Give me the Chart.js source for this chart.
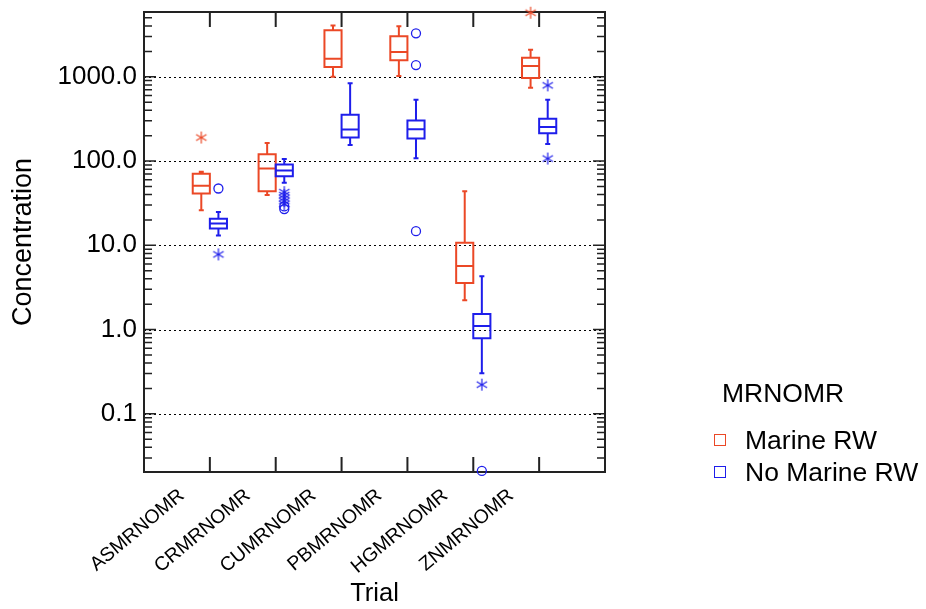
<!DOCTYPE html>
<html>
<head>
<meta charset="utf-8">
<script src="https://cdn.jsdelivr.net/npm/chart.js@4.4.1/dist/chart.umd.min.js"></script>
<style>
    body { margin: 0; background: #fff; font-family: 'Liberation Sans', Arial, sans-serif; }
    #wrap { position: relative; width: 926px; height: 609px; }
    .leg { position: absolute; font-size: 26.5px; color: #000; line-height: 30px; white-space: nowrap; }
    .sq { position: absolute; width: 10px; height: 10px; border: 1.5px solid; }
</style>
</head>
<body>
<div id="wrap">
    <canvas id="boxChart"></canvas>
    <div class="leg" style="left:722px; top:378px;">MRNOMR</div>
    <div class="sq" style="left:714px; top:434px; border-color:rgb(235,72,38);"></div>
    <div class="leg" style="left:745px; top:425px;">Marine RW</div>
    <div class="sq" style="left:714px; top:466px; border-color:rgb(30,30,235);"></div>
    <div class="leg" style="left:745px; top:457px;">No Marine RW</div>
</div>
<script>
// Categorias
const trials = ['ASMRNOMR', 'CRMRNOMR', 'CUMRNOMR', 'PBMRNOMR', 'HGMRNOMR', 'ZNMRNOMR'];

// Marine RW: whisker baixo, Q1, mediana, Q3, whisker alto
const marineLow  = [26.1, 39.4, 1000, 1020, 2.23, 740];
const marineQ1   = [41.2, 43.9, 1303, 1567, 3.57, 965];
const marineMed  = [50.8, 81.7, 1636, 1964, 5.69, 1340];
const marineQ3   = [70.5, 120, 3556, 3020, 10.7, 1682];
const marineHigh = [74.4, 164, 4065, 3970, 43.9, 2093];
const marineStars   = [[190], [], [], [], [], [5760]];
const marineCircles = [[], [], [], [], [], []];

// No Marine RW
const noMarineLow  = [13.1, 55.1, 155, 108, 0.303, 159];
const noMarineQ1   = [15.8, 66.2, 190, 185, 0.79, 213];
const noMarineMed  = [18.2, 77.3, 237, 239, 1.10, 253];
const noMarineQ3   = [20.6, 91.2, 354, 303, 1.53, 317];
const noMarineHigh = [24.9, 106, 835, 533, 4.29, 533];
const noMarineStars   = [[7.8], [42.7, 39.4, 36.2, 33.4, 30.8], [], [], [0.222], [791, 107]];
const noMarineCircles = [[47.2], [28.9, 26.9], [], [3275, 1377, 14.7], [0.021], []];

// Eixo Y
const yMin = 0.0204;
const yMax = 5870;
const yTicks = [0.1, 1, 10, 100, 1000];
const yTickLabels = ['0.1', '1.0', '10.0', '100.0', '1000.0'];

const RED = 'rgb(235,72,38)';
const BLUE = 'rgb(30,30,235)';
const OFF = 0.13;
const FONT = "'Liberation Sans', Arial, sans-serif";

Chart.defaults.font.family = FONT;
Chart.defaults.color = '#000';

function makeStar(color) {
    const c = document.createElement('canvas');
    c.width = 14; c.height = 14;
    const g = c.getContext('2d');
    g.strokeStyle = color;
    g.lineWidth = 1.2;
    for (let k = 0; k < 3; k++) {
        const a = Math.PI / 2 + k * Math.PI / 3;
        g.beginPath();
        g.moveTo(7 + 6 * Math.cos(a), 7 + 6 * Math.sin(a));
        g.lineTo(7 - 6 * Math.cos(a), 7 - 6 * Math.sin(a));
        g.stroke();
    }
    return c;
}

function toPoints(list, offset) {
    const pts = [];
    list.forEach((vals, i) => vals.forEach(v => pts.push({ x: i + 1 + offset, y: v })));
    return pts;
}

// Desenha caixas, grade e moldura usando as escalas do Chart.js
const boxPlugin = {
    id: 'boxes',
    beforeDatasetsDraw(chart) {
        const { ctx, chartArea: a, scales: { x, y } } = chart;
        ctx.save();

        // linhas pontilhadas nas décadas
        ctx.strokeStyle = '#000';
        ctx.lineWidth = 1.2;
        ctx.setLineDash([2, 3]);
        yTicks.forEach(v => {
            const py = Math.round(y.getPixelForValue(v)) + 0.5;
            ctx.beginPath(); ctx.moveTo(a.left, py); ctx.lineTo(a.right, py); ctx.stroke();
        });
        ctx.setLineDash([]);

        // ticks do eixo Y (dentro, dos dois lados)
        ctx.strokeStyle = '#222';
        ctx.lineWidth = 1.5;
        for (let e = -2; e <= 3; e++) {
            for (let m = 1; m <= 9; m++) {
                const v = m * Math.pow(10, e);
                if (v < yMin || v > yMax) continue;
                const py = y.getPixelForValue(v);
                const len = m === 1 ? 12 : 8;
                ctx.beginPath();
                ctx.moveTo(a.left, py); ctx.lineTo(a.left + len, py);
                ctx.moveTo(a.right, py); ctx.lineTo(a.right - len, py);
                ctx.stroke();
            }
        }

        // ticks do eixo X (dentro, em cima e embaixo)
        ctx.lineWidth = 2;
        trials.forEach((t, i) => {
            const px = x.getPixelForValue(i + 1);
            ctx.beginPath();
            ctx.moveTo(px, a.bottom); ctx.lineTo(px, a.bottom - 15);
            ctx.moveTo(px, a.top); ctx.lineTo(px, a.top + 15);
            ctx.stroke();
        });

        function drawGroup(low, q1, med, q3, high, offset, color) {
            ctx.strokeStyle = color;
            ctx.lineWidth = 2;
            trials.forEach((t, i) => {
                const xc = x.getPixelForValue(i + 1 + offset);
                const xl = x.getPixelForValue(i + 1 + offset - OFF);
                const xr = x.getPixelForValue(i + 1 + offset + OFF);
                const cap = 2.5;
                const yLo = y.getPixelForValue(low[i]);
                const yQ1 = y.getPixelForValue(q1[i]);
                const yMd = y.getPixelForValue(med[i]);
                const yQ3 = y.getPixelForValue(q3[i]);
                const yHi = y.getPixelForValue(high[i]);
                ctx.beginPath();
                ctx.rect(xl, yQ3, xr - xl, yQ1 - yQ3);
                ctx.moveTo(xl, yMd); ctx.lineTo(xr, yMd);
                ctx.moveTo(xc, yQ3); ctx.lineTo(xc, yHi);
                ctx.moveTo(xc - cap, yHi); ctx.lineTo(xc + cap, yHi);
                ctx.moveTo(xc, yQ1); ctx.lineTo(xc, yLo);
                ctx.moveTo(xc - cap, yLo); ctx.lineTo(xc + cap, yLo);
                ctx.stroke();
            });
        }
        drawGroup(marineLow, marineQ1, marineMed, marineQ3, marineHigh, -OFF, RED);
        drawGroup(noMarineLow, noMarineQ1, noMarineMed, noMarineQ3, noMarineHigh, OFF, BLUE);

        // moldura
        ctx.strokeStyle = '#222';
        ctx.lineWidth = 2;
        ctx.strokeRect(a.left, a.top, a.right - a.left, a.bottom - a.top);
        ctx.restore();
    }
};

const ctx = document.getElementById('boxChart').getContext('2d');
const boxChart = new Chart(ctx, {
    type: 'scatter',
    data: {
        datasets: [
            {
                label: 'Marine RW *',
                data: toPoints(marineStars, -OFF),
                pointStyle: makeStar(RED),
                clip: false
            },
            {
                label: 'Marine RW o',
                data: toPoints(marineCircles, -OFF),
                pointStyle: 'circle',
                pointRadius: 4.5,
                borderColor: RED,
                backgroundColor: 'rgba(0,0,0,0)',
                borderWidth: 1.3,
                clip: false
            },
            {
                label: 'No Marine RW *',
                data: toPoints(noMarineStars, OFF),
                pointStyle: makeStar(BLUE),
                clip: false
            },
            {
                label: 'No Marine RW o',
                data: toPoints(noMarineCircles, OFF),
                pointStyle: 'circle',
                pointRadius: 4.5,
                borderColor: BLUE,
                backgroundColor: 'rgba(0,0,0,0)',
                borderWidth: 1.3,
                clip: false
            }
        ]
    },
    options: {
        responsive: true,
        maintainAspectRatio: false,
        animation: false,
        layout: {
            padding: { top: 12, right: 321, bottom: 0, left: 0 }
        },
        plugins: {
            legend: { display: false },
            tooltip: { enabled: false }
        },
        scales: {
            x: {
                type: 'linear',
                min: 0,
                max: 7,
                afterBuildTicks: s => { s.ticks = trials.map((t, i) => ({ value: i + 1 })); },
                afterFit: s => { s.height = 137; s.paddingLeft = 0; s.paddingRight = 0; },
                ticks: {
                    callback: (v, i) => trials[i],
                    autoSkip: false,
                    minRotation: 40,
                    maxRotation: 40,
                    labelOffset: -28,
                    padding: 12,
                    color: '#000',
                    font: { size: 19.5 }
                },
                grid: { display: false, drawTicks: false },
                border: { display: false },
                title: {
                    display: true,
                    text: 'Trial',
                    color: '#000',
                    font: { size: 25.5 },
                    padding: { top: 0, bottom: 0 }
                }
            },
            y: {
                type: 'logarithmic',
                min: yMin,
                max: yMax,
                afterBuildTicks: s => { s.ticks = yTicks.map(v => ({ value: v })); },
                afterFit: s => { s.width = 144; s.paddingTop = 0; s.paddingBottom = 0; },
                ticks: {
                    callback: (v, i) => yTickLabels[i],
                    autoSkip: false,
                    padding: 7,
                    color: '#000',
                    font: { size: 26 }
                },
                grid: { display: false, drawTicks: false },
                border: { display: false },
                title: {
                    display: true,
                    text: 'Concentration',
                    color: '#000',
                    font: { size: 27 },
                    padding: { top: 7, bottom: 0 }
                }
            }
        }
    },
    plugins: [boxPlugin]
});
</script>
</body>
</html>
